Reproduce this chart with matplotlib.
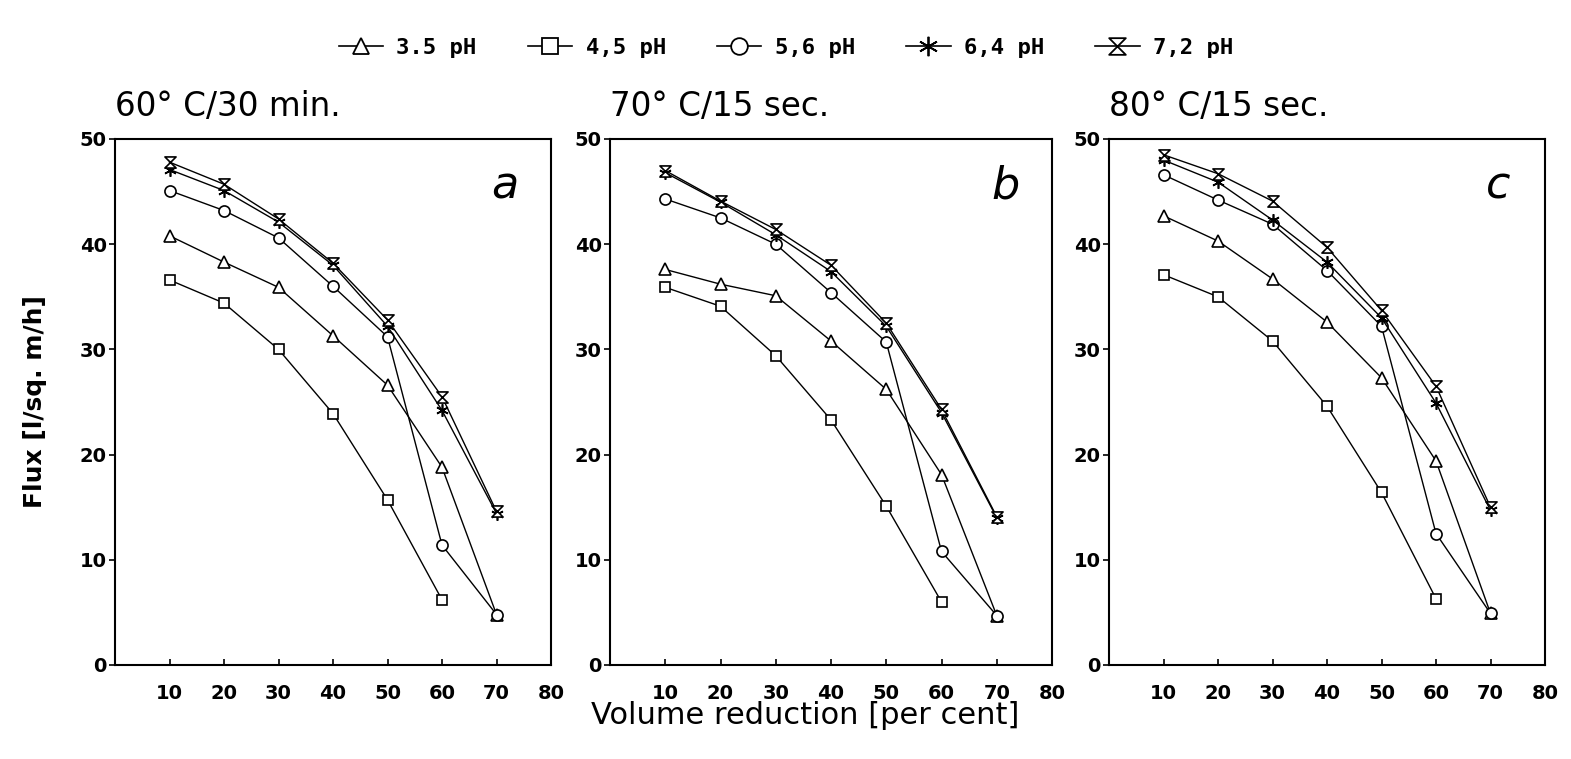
import matplotlib
matplotlib.use("Agg")
import matplotlib.pyplot as plt
from matplotlib.path import Path
from matplotlib.lines import Line2D
import numpy as np

volume = [10, 20, 30, 40, 50, 60, 70]
series_labels = ["3.5 pH", "4,5 pH", "5,6 pH", "6,4 pH", "7,2 pH"]
panel_titles = ["60° C/30 min.", "70° C/15 sec.", "80° C/15 sec."]
panel_letters = ["a", "b", "c"]
xticks = [10, 20, 30, 40, 50, 60, 70, 80]
yticks = [0, 10, 20, 30, 40, 50]

# Panel a: 60 C / 30 min
a_ph35 = [40.8, 38.3, 35.9, 31.3, 26.6, 18.8, 4.8]
a_ph45 = [36.6, 34.4, 30.0, 23.9, 15.7, 6.2]
a_ph56 = [45.1, 43.2, 40.6, 36.0, 31.2, 11.4, 4.8]
a_ph64 = [47.1, 45.1, 42.1, 38.0, 32.2, 24.2, 14.4]
a_ph72 = [47.8, 45.7, 42.4, 38.2, 32.8, 25.5, 14.6]

# Panel b: 70 C / 15 sec
b_ph35 = [37.6, 36.2, 35.1, 30.8, 26.2, 18.1, 4.7]
b_ph45 = [35.9, 34.1, 29.4, 23.3, 15.1, 6.0]
b_ph56 = [44.3, 42.5, 40.0, 35.4, 30.7, 10.8, 4.7]
b_ph64 = [46.8, 44.0, 40.9, 37.4, 32.2, 24.0, 14.0]
b_ph72 = [47.0, 44.1, 41.4, 38.0, 32.5, 24.3, 14.1]

# Panel c: 80 C / 15 sec
c_ph35 = [42.7, 40.3, 36.7, 32.6, 27.3, 19.4, 4.9]
c_ph45 = [37.1, 35.0, 30.8, 24.6, 16.4, 6.3]
c_ph56 = [46.6, 44.2, 41.9, 37.5, 32.2, 12.5, 4.9]
c_ph64 = [48.0, 45.9, 42.3, 38.3, 33.0, 24.9, 14.7]
c_ph72 = [48.5, 46.7, 44.1, 39.7, 33.7, 26.5, 15.0]

panels = [
    [a_ph35, a_ph45, a_ph56, a_ph64, a_ph72],
    [b_ph35, b_ph45, b_ph56, b_ph64, b_ph72],
    [c_ph35, c_ph45, c_ph56, c_ph64, c_ph72],
]

hourglass = Path([(-1, 1), (1, 1), (-1, -1), (1, -1), (-1, 1)],
                 [Path.MOVETO, Path.LINETO, Path.LINETO, Path.LINETO, Path.CLOSEPOLY])
markers = ["^", "s", "o", (6, 2, 0), hourglass]
msizes = [8, 7, 8, 9, 8]

W, H = 1571, 759
fig = plt.figure(figsize=(W / 100, H / 100), dpi=100)

lefts = [115, 610, 1109]
widths = [436, 442, 436]
top_px, bot_px = 139, 665

tick_font = dict(family="DejaVu Sans", weight="bold", size=14)
for i, data in enumerate(panels):
    ax = fig.add_axes([lefts[i] / W, (H - bot_px) / H, widths[i] / W, (bot_px - top_px) / H])
    for j, ys in enumerate(data):
        ax.plot(volume[:len(ys)], ys, color="black", lw=1.0,
                marker=markers[j], ms=msizes[j], mfc="white", mec="black",
                mew=1.2, label=series_labels[j])
    ax.set_xlim(0, 80)
    ax.set_ylim(0, 50)
    ax.set_xticks(xticks)
    ax.set_yticks(yticks)
    ax.set_xticklabels([str(t) for t in xticks], fontdict=tick_font)
    ax.set_yticklabels([str(t) for t in yticks], fontdict=tick_font)
    ax.tick_params(axis="x", direction="in", length=4, width=1.2, pad=14)
    ax.tick_params(axis="y", direction="out", length=4, width=1.2, pad=2)
    for s in ax.spines.values():
        s.set_linewidth(1.5)
    ax.text(0.0, 1.03, panel_titles[i], transform=ax.transAxes, ha="left", va="bottom",
            fontsize=23.5, family="DejaVu Sans")
    ax.text(71.5, 45.5, panel_letters[i], ha="center", va="center", fontsize=32,
            style="italic", family="DejaVu Sans")

fig.text(0.022, (H - 402) / H, "Flux [l/sq. m/h]", rotation=90, ha="center", va="center",
         fontsize=18, weight="bold", family="DejaVu Sans")
fig.text(805 / W, (H - 716) / H, "Volume reduction [per cent]", ha="center", va="center",
         fontsize=22, family="DejaVu Sans")

leg_ms = [12, 11, 12, 14, 12]
handles = [Line2D([], [], color="black", lw=1.2, marker=markers[j], ms=leg_ms[j],
                  mfc="white", mec="black", mew=1.3) for j in range(5)]
fig.legend(handles=handles, labels=series_labels, loc="center", ncol=5,
           bbox_to_anchor=(786 / W, (H - 48) / H), frameon=False,
           prop=dict(family="DejaVu Sans Mono", weight="bold", size=16),
           handlelength=2.0, columnspacing=2.3, handletextpad=0.6)

fig.savefig("out.png", dpi=100)
